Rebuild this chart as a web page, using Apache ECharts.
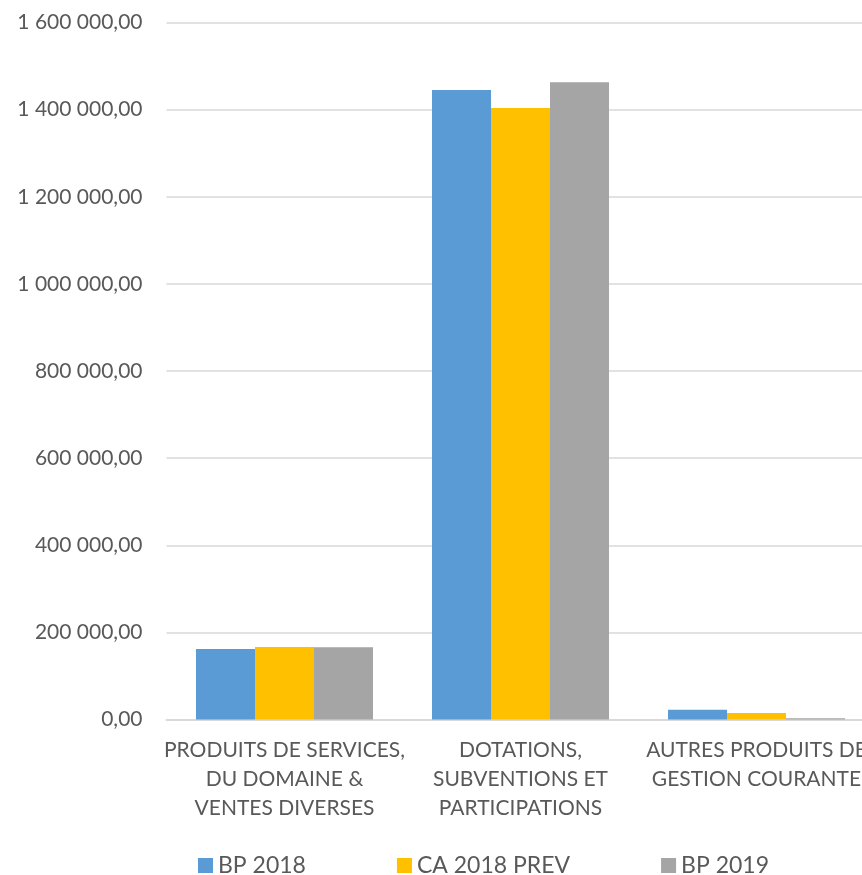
<!DOCTYPE html>
<html>
<head>
<meta charset="utf-8">
<script src="https://cdn.jsdelivr.net/npm/echarts@6/dist/echarts.min.js"></script>
<style>
  html, body { margin: 0; padding: 0; background: #ffffff; overflow: hidden; width: 862px; height: 875px; }
  #chart { width: 880px; height: 875px; }
</style>
</head>
<body>
<div id="chart"></div>
<script>
const categories = [
  "PRODUITS DE SERVICES,\nDU DOMAINE &\nVENTES DIVERSES",
  "DOTATIONS,\nSUBVENTIONS ET\nPARTICIPATIONS",
  "AUTRES PRODUITS DE\nGESTION COURANTE"
];
const seriesNames = ["BP 2018", "CA 2018 PREV", "BP 2019"];
const bp2018 = [162000, 1445000, 22500];
const ca2018prev = [166500, 1403500, 15000];
const bp2019 = [166000, 1463000, 3000];
const yTicks = { min: 0, max: 1600000, interval: 200000 };
const colors = ["#5B9BD5", "#FFC000", "#A5A5A5"];

function frNumber(v) {
  const s = Math.round(v).toString().replace(/\B(?=(\d{3})+(?!\d))/g, " ");
  return s + ",00";
}

const chart = echarts.init(document.getElementById("chart"), null, { renderer: "canvas" });
const font = "Lato, 'Open Sans', sans-serif";
const allData = [bp2018, ca2018prev, bp2019];

chart.setOption({
  animation: false,
  backgroundColor: "#ffffff",
  color: colors,
  grid: { left: 166.5, top: 22.5, width: 708, height: 697 },
  legend: {
    data: seriesNames,
    left: 198,
    top: 854,
    padding: 0,
    itemWidth: 15,
    itemHeight: 15,
    itemGap: 91,
    icon: "rect",
    textStyle: { fontFamily: font, fontSize: 23, color: "#595959" }
  },
  xAxis: {
    type: "category",
    data: categories,
    axisLine: { show: true, lineStyle: { color: "#d9d9d9", width: 2 } },
    axisTick: { show: false },
    axisLabel: {
      interval: 0,
      margin: 16,
      fontFamily: font,
      fontSize: 21,
      lineHeight: 29,
      color: "#595959",
      align: "center"
    }
  },
  yAxis: {
    type: "value",
    min: yTicks.min,
    max: yTicks.max,
    interval: yTicks.interval,
    axisLine: { show: false },
    axisTick: { show: false },
    splitLine: { lineStyle: { color: "#d9d9d9", width: 1.5 } },
    axisLabel: {
      margin: 24,
      fontFamily: font,
      fontSize: 21,
      color: "#595959",
      formatter: frNumber
    }
  },
  series: seriesNames.map((name, i) => ({
    name: name,
    type: "bar",
    data: allData[i],
    barGap: "0%",
    barCategoryGap: "25%",
    itemStyle: { color: colors[i] }
  }))
});
</script>
</body>
</html>
